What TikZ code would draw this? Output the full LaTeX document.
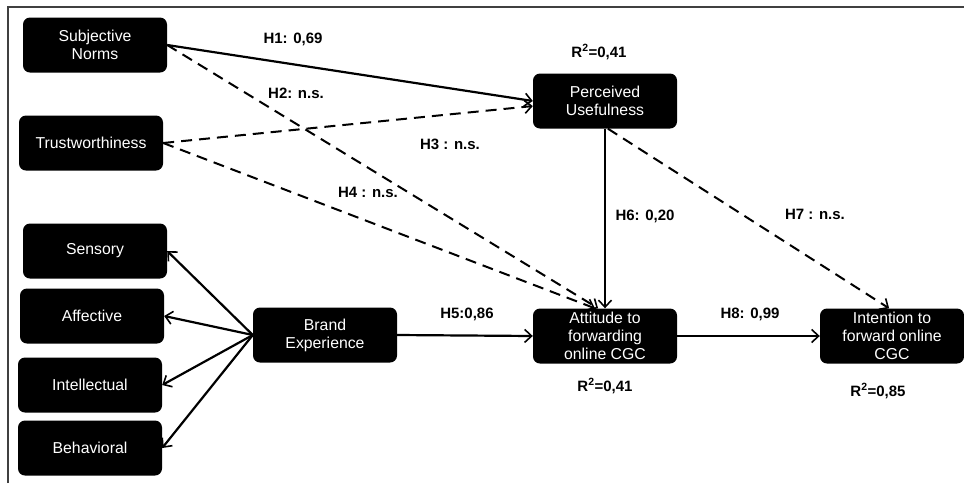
\documentclass[tikz,border=0pt]{standalone}
\usepackage{fontspec}
\setmainfont{Liberation Sans}
\usepackage{tikz}
\usetikzlibrary{arrows.meta}

\begin{document}
\begin{tikzpicture}[x=1pt,y=-1pt,
        >={Straight Barb[length=7pt,width=13pt,line width=1.6pt]},
        construct/.style={rectangle, rounded corners=7pt, fill=black, text=white,
            minimum width=144pt, minimum height=55pt, align=center, inner sep=2pt,
            font=\fontsize{15.8}{18}\selectfont},
        path/.style={->, line width=2.2pt},
        nspath/.style={->, line width=2pt, dash pattern=on 11pt off 7pt},
        hyp/.style={font=\bfseries\fontsize{15}{17}\selectfont},
        rsq/.style={font=\bfseries\fontsize{15}{17}\selectfont}]
    \useasboundingbox (0,0) rectangle (964,483);
    \draw[line width=1.5pt, black!75] (8,483) -- (8,7) -- (964,7);

    % constructs
    \node[construct] (sn) at (95,45) {Subjective\\Norms};
    \node[construct] (tw) at (91,143) {Trustworthiness};
    \node[construct] (pu) at (605,101) {Perceived\\Usefulness};
    \node[construct] (sen) at (95,251) {Sensory};
    \node[construct] (aff) at (92,316) {Affective};
    \node[construct] (int) at (90,385) {Intellectual};
    \node[construct] (beh) at (90,448) {Behavioral};
    \node[construct] (be) at (325,335) {Brand\\Experience};
    \node[construct] (att) at (605,336) {Attitude to\\forwarding\\online CGC};
    \node[construct] (itf) at (892,336) {Intention to\\forward online\\CGC};

    % brand experience dimensions
    \foreach \d in {sen,aff,int,beh}
        \draw[path] (be.west) -- (\d.east);

    % hypotheses
    \draw[path] (sn.east) -- (pu.west);
    \draw[nspath] (sn.east) -- (att.104);
    \draw[nspath] (tw.east) -- (pu.184);
    \draw[nspath] (tw.east) -- (att.110);
    \draw[path] (be.east) -- (att.west);
    \draw[path] (pu.south) -- (att.north);
    \draw[nspath] (pu.-84) -- (itf.96);
    \draw[path] (att.east) -- (itf.west);

    \node[hyp] (h1) at (293,39) {H1: 0,69};
    \node[hyp] (h2) at (296,93) {H2: n.s.};
    \node[hyp] (h3) at (450,144) {H3 : n.s.};
    \node[hyp] (h4) at (368,192) {H4 : n.s.};
    \node[hyp] (h5) at (467,314) {H5:0,86};
    \node[hyp] (h6) at (645,216) {H6: 0,20};
    \node[hyp] (h7) at (815,214) {H7 : n.s.};
    \node[hyp] (h8) at (750,314) {H8: 0,99};

    \node[rsq] (r1) at (599,52) {R\textsuperscript{2}=0,41};
    \node[rsq] (r2) at (605,386) {R\textsuperscript{2}=0,41};
    \node[rsq] (r3) at (878,391) {R\textsuperscript{2}=0,85};
\end{tikzpicture}
\end{document}
